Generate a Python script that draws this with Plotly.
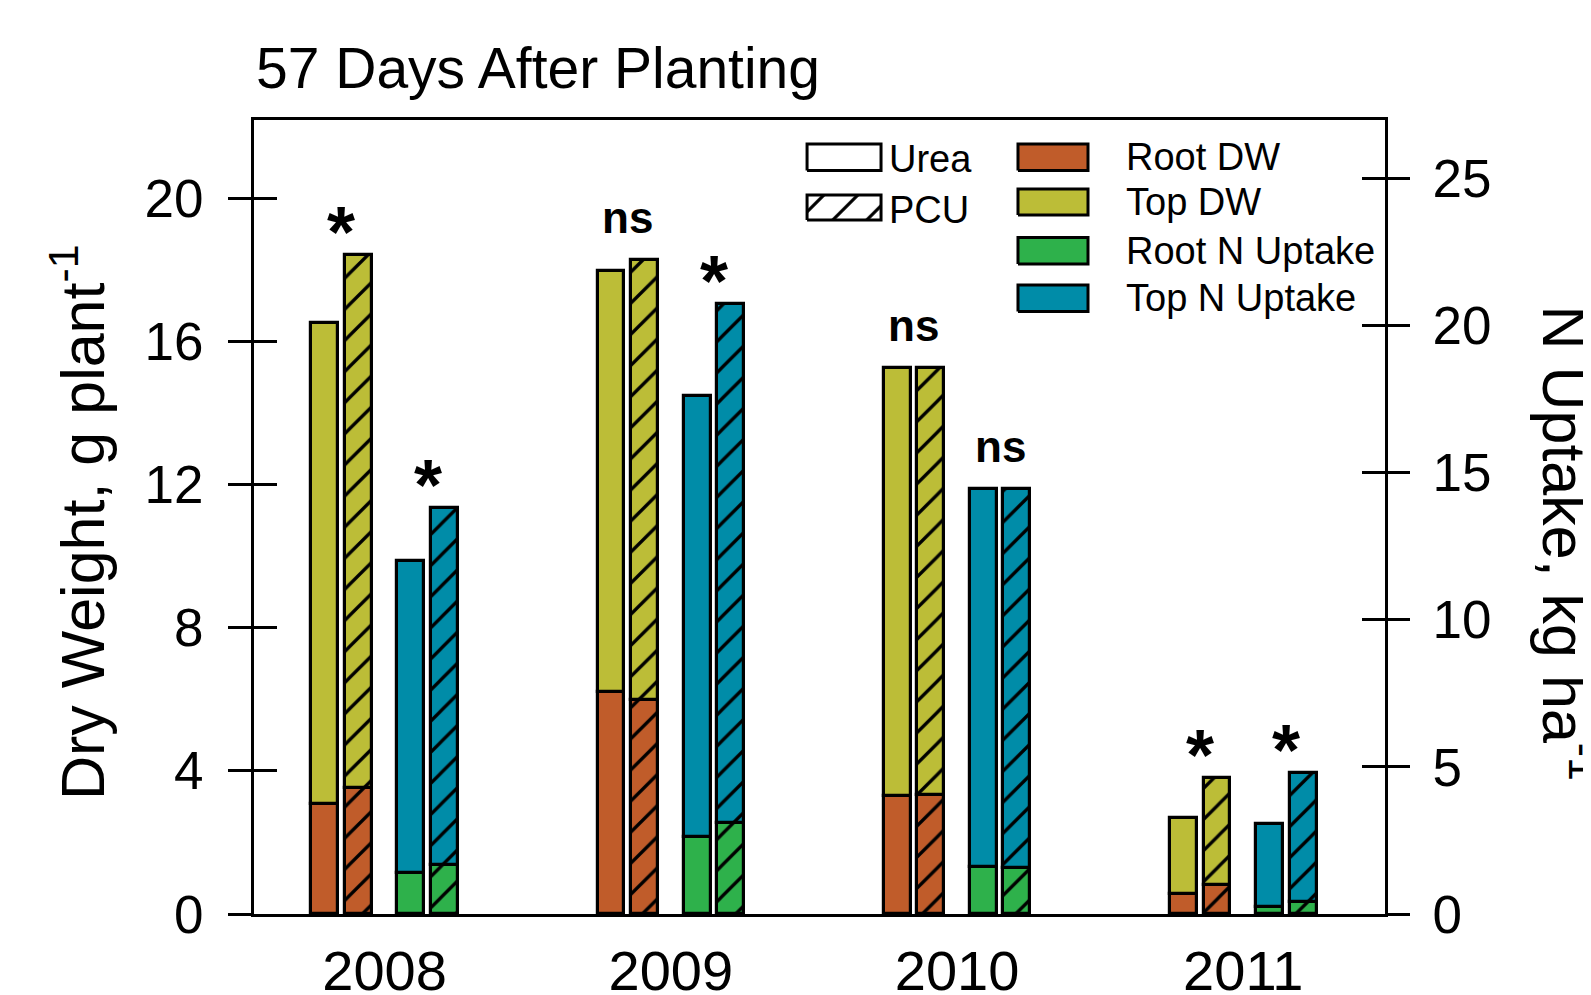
import numpy as np
import plotly.graph_objects as go

# ---------------- data ----------------
years = ["2008", "2009", "2010", "2011"]

# Dry weight, g plant-1 (left axis)
urea_root_dw = [3.06, 6.21, 3.29, 0.55]
urea_total_dw = [16.50, 17.97, 15.25, 2.68]
pcu_root_dw = [3.51, 5.98, 3.32, 0.82]
pcu_total_dw = [18.40, 18.28, 15.25, 3.79]

# N uptake, kg ha-1 (right axis)
urea_root_n = [1.38, 2.62, 1.59, 0.25]
urea_total_n = [12.00, 17.62, 14.45, 3.06]
pcu_root_n = [1.66, 3.10, 1.55, 0.42]
pcu_total_n = [13.80, 20.76, 14.45, 4.81]

# significance labels
sig_dw = ["*", "ns", "ns", "*"]
sig_n = ["*", "*", "ns", "*"]

left_ticks = [0, 4, 8, 12, 16, 20]
right_ticks = [0, 5, 10, 15, 20, 25]

# ---------------- style ----------------
FONT = "Liberation Sans, Arial, Helvetica, sans-serif"
C_ROOT_DW = "#C05C2A"
C_TOP_DW = "#BCBD37"
C_ROOT_N = "#2EB14B"
C_TOP_N = "#008CA8"
LINE = dict(color="black", width=3.2)
HATCH = dict(shape="/", fgcolor="black", fgopacity=1, size=22, solidity=0.15)

Y_LEFT_MAX = 22.18
Y_RIGHT_MAX = 27.0
BAR_W = 0.094
OFF = {"urea_dw": -0.209, "pcu_dw": -0.092, "urea_n": 0.092, "pcu_n": 0.209}

idx = np.arange(len(years), dtype=float)

fig = go.Figure()


def add_stack(key, root, total, c_root, c_top, yaxis, hatched):
    xs = idx + OFF[key]
    root_a = np.array(root, dtype=float)
    top_a = np.array(total, dtype=float) - root_a
    marker_root = dict(color=c_root, line=LINE)
    marker_top = dict(color=c_top, line=LINE)
    if hatched:
        marker_root["pattern"] = HATCH
        marker_top["pattern"] = HATCH
    fig.add_trace(go.Bar(x=xs, y=root_a, base=0, width=BAR_W, marker=marker_root,
                         yaxis=yaxis, showlegend=False, hoverinfo="skip"))
    fig.add_trace(go.Bar(x=xs, y=top_a, base=root_a, width=BAR_W, marker=marker_top,
                         yaxis=yaxis, showlegend=False, hoverinfo="skip"))


add_stack("urea_dw", urea_root_dw, urea_total_dw, C_ROOT_DW, C_TOP_DW, "y", False)
add_stack("pcu_dw", pcu_root_dw, pcu_total_dw, C_ROOT_DW, C_TOP_DW, "y", True)
add_stack("urea_n", urea_root_n, urea_total_n, C_ROOT_N, C_TOP_N, "y2", False)
add_stack("pcu_n", pcu_root_n, pcu_total_n, C_ROOT_N, C_TOP_N, "y2", True)

# dummy traces so the inside-tick overlay axes render
fig.add_trace(go.Scatter(x=[None], y=[None], yaxis="y3", showlegend=False, hoverinfo="skip"))
fig.add_trace(go.Scatter(x=[None], y=[None], yaxis="y4", showlegend=False, hoverinfo="skip"))


# ---------------- legend (drawn on an invisible 0..1 overlay) ----------------
def box(x0, x1, y0, y1, color, hatched=False):
    kw = {}
    if hatched:
        kw["fillpattern"] = dict(shape="/", fgcolor="black", fgopacity=1, bgcolor="white",
                                 size=24, solidity=0.13)
    fig.add_trace(go.Scatter(x=[x0, x1, x1, x0, x0], y=[y0, y0, y1, y1, y0],
                             mode="lines", fill="toself", fillcolor=color,
                             line=dict(color="black", width=3),
                             xaxis="x2", yaxis="y5", showlegend=False, hoverinfo="skip", **kw))


box(0.4890, 0.5544, 0.9364, 0.9698, "white")
box(0.4890, 0.5544, 0.8741, 0.9055, "white", hatched=True)
legend_items = [("Root DW", C_ROOT_DW, 0.9364, 0.9698),
                ("Top DW", C_TOP_DW, 0.8804, 0.9131),
                ("Root N Uptake", C_ROOT_N, 0.8186, 0.8520),
                ("Top N Uptake", C_TOP_N, 0.7588, 0.7922)]
for name, col, y0, y1 in legend_items:
    box(0.6755, 0.7374, y0, y1, col)

annotations = []
for txt, yy in [("Urea", 0.9505), ("PCU", 0.8866)]:
    annotations.append(dict(text=txt, xref="paper", yref="paper", x=0.5600, y=yy,
                            xanchor="left", yanchor="middle", showarrow=False,
                            font=dict(family=FONT, size=38, color="black")))
for (name, col, y0, y1) in legend_items:
    annotations.append(dict(text=name, xref="paper", yref="paper", x=0.7690, y=(y0 + y1) / 2,
                            xanchor="left", yanchor="middle", showarrow=False,
                            font=dict(family=FONT, size=38, color="black")))

# significance labels
for i in range(len(years)):
    for lab, a, b, off, yref in [(sig_dw[i], urea_total_dw[i], pcu_total_dw[i], -0.1505, "y"),
                                 (sig_n[i], urea_total_n[i], pcu_total_n[i], 0.1505, "y2")]:
        star = lab == "*"
        annotations.append(dict(text="<b>%s</b>" % lab, x=i + off, y=max(a, b), xref="x", yref=yref,
                                xanchor="center", yanchor="bottom", showarrow=False,
                                yshift=-19 if star else 16,
                                font=dict(family=FONT, size=72 if star else 44, color="black")))

# title
annotations.append(dict(text="57 Days After Planting", xref="paper", yref="paper", x=0.0, y=1.066,
                        xanchor="left", yanchor="middle", showarrow=False,
                        font=dict(family=FONT, size=57, color="black")))
# axis titles
annotations.append(dict(text="Dry Weight, g plant<sup>-1</sup>", xref="paper", yref="paper",
                        x=-0.156, y=0.493, xanchor="center", yanchor="middle", textangle=-90,
                        showarrow=False, font=dict(family=FONT, size=61, color="black")))
annotations.append(dict(text="N Uptake, kg ha<sup>-1</sup>", xref="paper", yref="paper",
                        x=1.1625, y=0.467, xanchor="center", yanchor="middle", textangle=90,
                        showarrow=False, font=dict(family=FONT, size=61, color="black")))

tickfont = dict(family=FONT, size=53, color="black")

# the page body adds an 8 px offset, so the figure is drawn 8 px smaller and margins adjusted
fig.update_layout(
    width=1583, height=987, autosize=False,
    margin=dict(l=246, r=206, t=112, b=81, pad=0),
    plot_bgcolor="white", paper_bgcolor="white",
    barmode="overlay", bargap=0, showlegend=False,
    font=dict(family=FONT, color="black"),
    annotations=annotations,
    xaxis=dict(range=[-0.456, 3.495], tickvals=list(idx), ticktext=years, automargin=False,
               ticks="outside", ticklen=4, tickcolor="rgba(0,0,0,0)", ticklabelstandoff=2,
               showline=True, linewidth=3, linecolor="black", mirror=True,
               showgrid=False, zeroline=False, tickfont=dict(family=FONT, size=56, color="black")),
    xaxis2=dict(overlaying="x", range=[0, 1], visible=False, anchor="y5", automargin=False),
    yaxis=dict(range=[0, Y_LEFT_MAX], tickvals=left_ticks, ticks="outside", ticklen=23, automargin=False,
               tickwidth=2.6, tickcolor="black", ticklabelstandoff=14,
               showline=True, linewidth=3, linecolor="black",
               showgrid=False, zeroline=False, tickfont=tickfont),
    yaxis2=dict(overlaying="y", side="right", anchor="x", range=[0, Y_RIGHT_MAX], tickvals=right_ticks,
                ticks="outside", ticklen=22, tickwidth=2.6, tickcolor="black", ticklabelstandoff=12,
                showline=True, linewidth=3, linecolor="black", automargin=False,
                showgrid=False, zeroline=False, tickfont=tickfont),
    yaxis3=dict(overlaying="y", side="left", anchor="x", range=[0, Y_LEFT_MAX], tickvals=left_ticks,
                ticks="inside", ticklen=23, tickwidth=2.6, tickcolor="black", showticklabels=False,
                showline=False, showgrid=False, zeroline=False, automargin=False),
    yaxis4=dict(overlaying="y", side="right", anchor="x", range=[0, Y_RIGHT_MAX], tickvals=right_ticks,
                ticks="inside", ticklen=23, tickwidth=2.6, tickcolor="black", showticklabels=False,
                showline=False, showgrid=False, zeroline=False, automargin=False),
    yaxis5=dict(overlaying="y", anchor="x2", range=[0, 1], visible=False, automargin=False),
)

fig.write_html("out.html")
